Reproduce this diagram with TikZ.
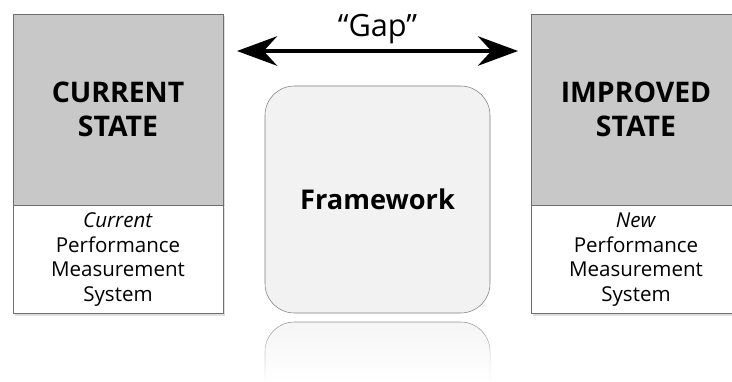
\documentclass[tikz,border=0pt]{standalone}
\usepackage{fontspec}
\setmainfont{Open Sans}
\usetikzlibrary{positioning,arrows.meta,shadows,fadings}

\definecolor{boxline}{HTML}{6E6E6E}
\definecolor{boxgray}{HTML}{C8C8C8}
\definecolor{framefill}{HTML}{F2F2F2}
\tikzfading[name=reflfade, top color=transparent!25, bottom color=transparent!100]

\begin{document}
\begin{tikzpicture}[x=0.75pt, y=-0.75pt,
    statebox/.style={rectangle, draw=boxline, fill=boxgray, inner sep=0pt,
        minimum width=157.5pt, minimum height=143.25pt, align=center,
        font=\bfseries\fontsize{21.3}{25.5}\selectfont,
        drop shadow={shadow xshift=1.5pt, shadow yshift=-1.5pt, opacity=0.25}},
    sysbox/.style={rectangle, draw=boxline, fill=white, inner sep=0pt,
        minimum width=157.5pt, minimum height=81pt, align=center,
        font=\fontsize{15.4}{18.5}\selectfont,
        drop shadow={shadow xshift=1.5pt, shadow yshift=-1.5pt, opacity=0.25}},
    framebox/.style={rectangle, rounded corners=22pt, draw=boxline!90, fill=framefill,
        minimum width=168.75pt, minimum height=170.25pt,
        font=\bfseries\fontsize{20.4}{22}\selectfont}]
        \useasboundingbox (0,0) rectangle (732,382);

        % current state
        \node (curstate) [statebox] at (118,109.5) {CURRENT\\STATE};
        \node (cursys) [sysbox, below=0pt of curstate] {\textit{Current}\\Performance\\Measurement\\System};

        % improved state
        \node (newstate) [statebox] at (636,109.5) {IMPROVED\\STATE};
        \node (newsys) [sysbox, below=0pt of newstate] {\textit{New}\\Performance\\Measurement\\System};

        % framework and its reflection
        \node (frame) [framebox] at (377.5,199.5) {Framework};
        \fill[framefill, path fading=reflfade, rounded corners=22pt] (265,382) -- (265,322) -- (490,322) -- (490,382);
        \draw[boxline, path fading=reflfade, rounded corners=22pt] (265,382) -- (265,322) -- (490,322) -- (490,382);

        % gap
        \coordinate (gapl) at (237,51);
        \coordinate (gapr) at (518,51);
        \draw[{Stealth[length=30pt, width=22pt, inset=10pt]}-{Stealth[length=30pt, width=22pt, inset=10pt]}, line width=3.5pt]
            (gapl) -- node[above=0pt, font=\fontsize{23}{25}\selectfont] (gaptext) {“Gap”} (gapr);
\end{tikzpicture}
\end{document}
